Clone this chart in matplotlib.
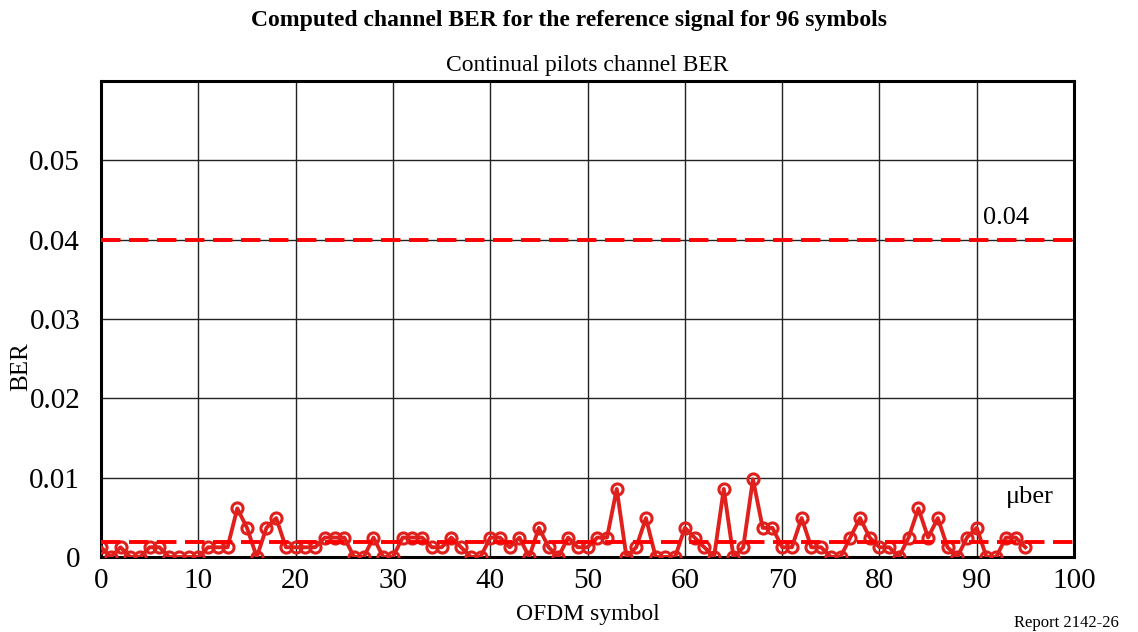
import numpy as np
import matplotlib
matplotlib.use("Agg")
import matplotlib.pyplot as plt

# BER per OFDM symbol, in units of one bit error (1/816)
unit = 0.001225
symbols = np.arange(96)
err_units = [1, 0, 1, 0, 0, 1, 1, 0, 0, 0, 0, 1, 1, 1,
             5, 3, 0, 3, 4, 1, 1, 1, 1,
             2, 2, 2, 0, 0, 2, 0, 0, 2, 2, 2, 1, 1, 2, 1, 0, 0,
             2, 2, 1, 2, 0, 3, 1, 0, 2, 1, 1, 2, 2, 7, 0, 1, 4, 0, 0, 0,
             3, 2, 1, 0, 7, 0, 1, 8, 3, 3, 1, 1, 4, 1, 1, 0, 0, 2, 4, 2,
             1, 1, 0, 2, 5, 2, 4, 1, 0, 2, 3, 0, 0, 2, 2, 1]
ber = np.array(err_units) * unit
threshold = 0.04
mu_ber = ber.mean()

plt.rcParams['font.family'] = ['Liberation Serif', 'DejaVu Serif']

fig = plt.figure(figsize=(11.38, 6.32), dpi=100)
ax = fig.add_axes([0.0888, 0.1187, 0.855, 0.753])

ax.plot(symbols, ber, color='#e0201c', lw=2.8, marker='o', ms=8,
        mfc='none', mec='#e0201c', mew=2.2, zorder=3)
ax.axhline(threshold, color='#ff0000', lw=2.8, ls=(0, (5, 2.2)), zorder=4)
ax.axhline(mu_ber, color='#ff0000', lw=2.8, ls=(0, (5, 2.2)), zorder=4)

ax.text(93, 0.0413, "0.04", fontsize=19, ha='center', va='bottom')
ax.text(95.5, 0.0062, "\u03bcber", fontsize=19, ha='center', va='bottom')

ax.set_xlim(0, 100)
ax.set_ylim(0, 0.06)
ax.set_xticks(np.arange(0, 101, 10))
ax.set_yticks([0, 0.01, 0.02, 0.03, 0.04, 0.05])
ax.set_yticklabels(["0", "0.01", "0.02", "0.03", "0.04", "0.05"])
ax.tick_params(length=0, labelsize=21)
ax.tick_params(axis='y', pad=15)
ax.tick_params(axis='x', pad=8)
ax.grid(True, color='#222222', lw=1.0)
ax.set_axisbelow(True)
for s in ax.spines.values():
    s.set_linewidth(2.2)

ax.set_xlabel("OFDM symbol", fontsize=17, labelpad=7)
ax.set_ylabel("BER", fontsize=18)
ax.yaxis.set_label_coords(-0.071, 0.40)
ax.set_title("Continual pilots channel BER", fontsize=17, pad=7)
fig.text(0.5, 0.967, "Computed channel BER for the reference signal for 96 symbols",
         ha='center', va='center', fontsize=17, fontweight='bold')
fig.text(0.983, 0.002, "Report 2142-26", ha='right', va='bottom', fontsize=12)

fig.savefig("out.png", dpi=100)
